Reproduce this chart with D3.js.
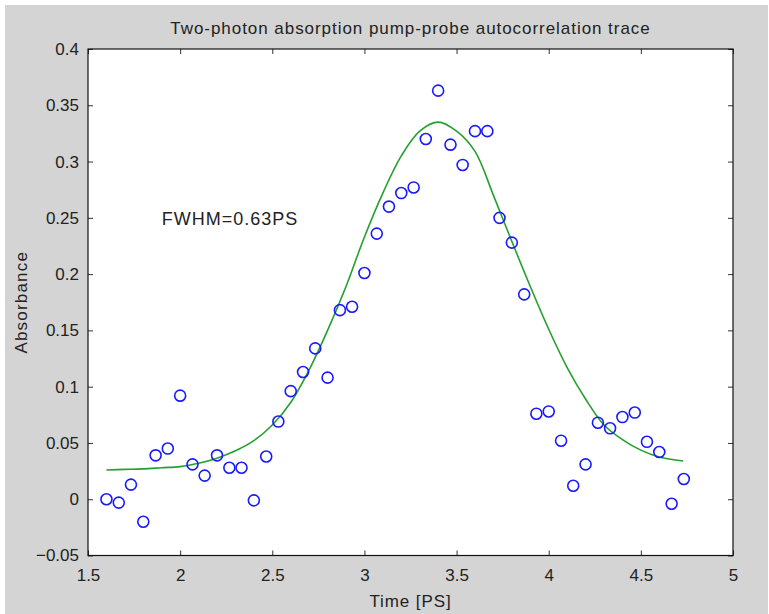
<!DOCTYPE html>
<html>
<head>
<meta charset="utf-8">
<script src="https://cdn.jsdelivr.net/npm/d3@7"></script>
<style>
  body { margin: 0; background: #fff; }
  text { font-family: "Liberation Sans", Arial, sans-serif; }
</style>
</head>
<body>
<div id="roott"></div>
<script>
// measured points (time in PS, absorbance)
let timePts = [1.600, 1.667, 1.733, 1.800, 1.867, 1.933, 2.000, 2.067, 2.133, 2.200,
  2.267, 2.333, 2.400, 2.467, 2.533, 2.600, 2.667, 2.733, 2.800, 2.867,
  2.933, 3.000, 3.067, 3.133, 3.200, 3.267, 3.333, 3.400, 3.467, 3.533,
  3.600, 3.667, 3.733, 3.800, 3.867, 3.933, 4.000, 4.067, 4.133, 4.200,
  4.267, 4.333, 4.400, 4.467, 4.533, 4.600, 4.667, 4.733];
let absPts = [0.000, -0.003, 0.013, -0.020, 0.039, 0.045, 0.092, 0.031, 0.021, 0.039,
  0.028, 0.028, -0.001, 0.038, 0.069, 0.096, 0.113, 0.134, 0.108, 0.168,
  0.171, 0.201, 0.236, 0.260, 0.272, 0.277, 0.320, 0.363, 0.315, 0.297,
  0.327, 0.327, 0.250, 0.228, 0.182, 0.076, 0.078, 0.052, 0.012, 0.031,
  0.068, 0.063, 0.073, 0.077, 0.051, 0.042, -0.004, 0.018];

// fitted curve
let fitTime = [1.6, 1.7, 1.8, 1.9, 2.0, 2.1, 2.2, 2.3, 2.4, 2.5, 2.6, 2.7, 2.8, 2.9,
  3.0, 3.1, 3.2, 3.3, 3.4, 3.5, 3.6, 3.7, 3.8, 3.9, 4.0, 4.1, 4.2, 4.3, 4.4, 4.5, 4.6, 4.73];
let fitAbs = [0.026, 0.0265, 0.027, 0.028, 0.029, 0.032, 0.0365, 0.043, 0.052, 0.066, 0.086, 0.115, 0.150, 0.189,
  0.233, 0.272, 0.305, 0.327, 0.335, 0.327, 0.309, 0.270, 0.229, 0.189, 0.151, 0.117, 0.089, 0.066, 0.053, 0.0436, 0.0375, 0.034];

let xTicks = [1.5, 2, 2.5, 3, 3.5, 4, 4.5, 5];
let yTicks = [-0.05, 0, 0.05, 0.1, 0.15, 0.2, 0.25, 0.3, 0.35, 0.4];

let titleText = "Two-photon absorption pump-probe autocorrelation trace";
let xLabel = "Time [PS]";
let yLabel = "Absorbance";
let noteText = "FWHM=0.63PS";

//DIMENSIONS
let widthh = 769, heightt = 614;
let plotL = 88, plotR = 733, plotT = 49, plotB = 555.5;

let svg = d3.select('#roott')
  .append('svg')
  .attr('width', widthh)
  .attr('height', heightt);

// grey figure background
svg.append('rect')
  .attr('x', 5).attr('y', 5)
  .attr('width', 763).attr('height', 609)
  .style('fill', '#d4d4d4');

let xScale = d3.scaleLinear().domain([1.5, 5]).range([plotL, plotR]);
let yScale = d3.scaleLinear().domain([-0.05, 0.4]).range([plotB, plotT]);

svg.append('rect')
  .attr('x', plotL).attr('y', plotT)
  .attr('width', plotR - plotL).attr('height', plotB - plotT)
  .style('fill', '#fff');

// axes, ticks inward on all four sides
let tickLen = 5;
svg.append('g')
  .attr('transform', `translate(0, ${plotB})`)
  .call(d3.axisBottom(xScale).tickValues(xTicks).tickSize(-tickLen).tickPadding(13).tickFormat(d3.format('')))
  .call(g => g.select('.domain').remove());
svg.append('g')
  .attr('transform', `translate(0, ${plotT})`)
  .call(d3.axisTop(xScale).tickValues(xTicks).tickSize(-tickLen).tickFormat(''))
  .call(g => g.select('.domain').remove());
svg.append('g')
  .attr('transform', `translate(${plotL}, 0)`)
  .call(d3.axisLeft(yScale).tickValues(yTicks).tickSize(-tickLen).tickPadding(9).tickFormat(d3.format('')))
  .call(g => g.select('.domain').remove());
svg.append('g')
  .attr('transform', `translate(${plotR}, 0)`)
  .call(d3.axisRight(yScale).tickValues(yTicks).tickSize(-tickLen).tickFormat(''))
  .call(g => g.select('.domain').remove());

svg.selectAll('.tick line').style('stroke', '#333');
svg.selectAll('.tick text')
  .style('font-size', '17px')
  .style('fill', '#222')
  .style('font-family', '"Liberation Sans", Arial, sans-serif');

svg.append('rect')
  .attr('x', plotL).attr('y', plotT)
  .attr('width', plotR - plotL).attr('height', plotB - plotT)
  .style('fill', 'none')
  .style('stroke', '#111')
  .style('stroke-width', 1.2);

// fitted curve
let fitData = fitTime.map((t, i) => ({t: t, a: fitAbs[i]}));
let line = d3.line()
  .x(d => xScale(d.t))
  .y(d => yScale(d.a))
  .curve(d3.curveCatmullRom);
svg.append('path')
  .datum(fitData)
  .attr('d', line)
  .style('fill', 'none')
  .style('stroke', '#23a02d')
  .style('stroke-width', 1.6);

// data circles
let pts = timePts.map((t, i) => ({t: t, a: absPts[i]}));
svg.selectAll('circle.pt')
  .data(pts)
  .enter()
  .append('circle')
  .attr('class', 'pt')
  .attr('cx', d => xScale(d.t))
  .attr('cy', d => yScale(d.a))
  .attr('r', 5.5)
  .style('fill', 'none')
  .style('stroke', '#1a1aff')
  .style('stroke-width', 1.6);

// texts
svg.append('text')
  .attr('x', (plotL + plotR) / 2)
  .attr('y', 34)
  .attr('text-anchor', 'middle')
  .style('font-size', '17px')
  .style('letter-spacing', '0.95px')
  .style('fill', '#222')
  .text(titleText);

svg.append('text')
  .attr('x', (plotL + plotR) / 2)
  .attr('y', 607)
  .attr('text-anchor', 'middle')
  .style('font-size', '17px')
  .style('letter-spacing', '0.9px')
  .style('fill', '#222')
  .text(xLabel);

svg.append('text')
  .attr('transform', `translate(27, ${(plotT + plotB) / 2}) rotate(-90)`)
  .attr('text-anchor', 'middle')
  .style('font-size', '17px')
  .style('letter-spacing', '1.2px')
  .style('fill', '#222')
  .text(yLabel);

svg.append('text')
  .attr('x', xScale(1.9))
  .attr('y', yScale(0.25))
  .attr('dy', 7)
  .style('font-size', '18px')
  .style('letter-spacing', '1px')
  .style('fill', '#222')
  .text(noteText);
</script>
</body>
</html>
